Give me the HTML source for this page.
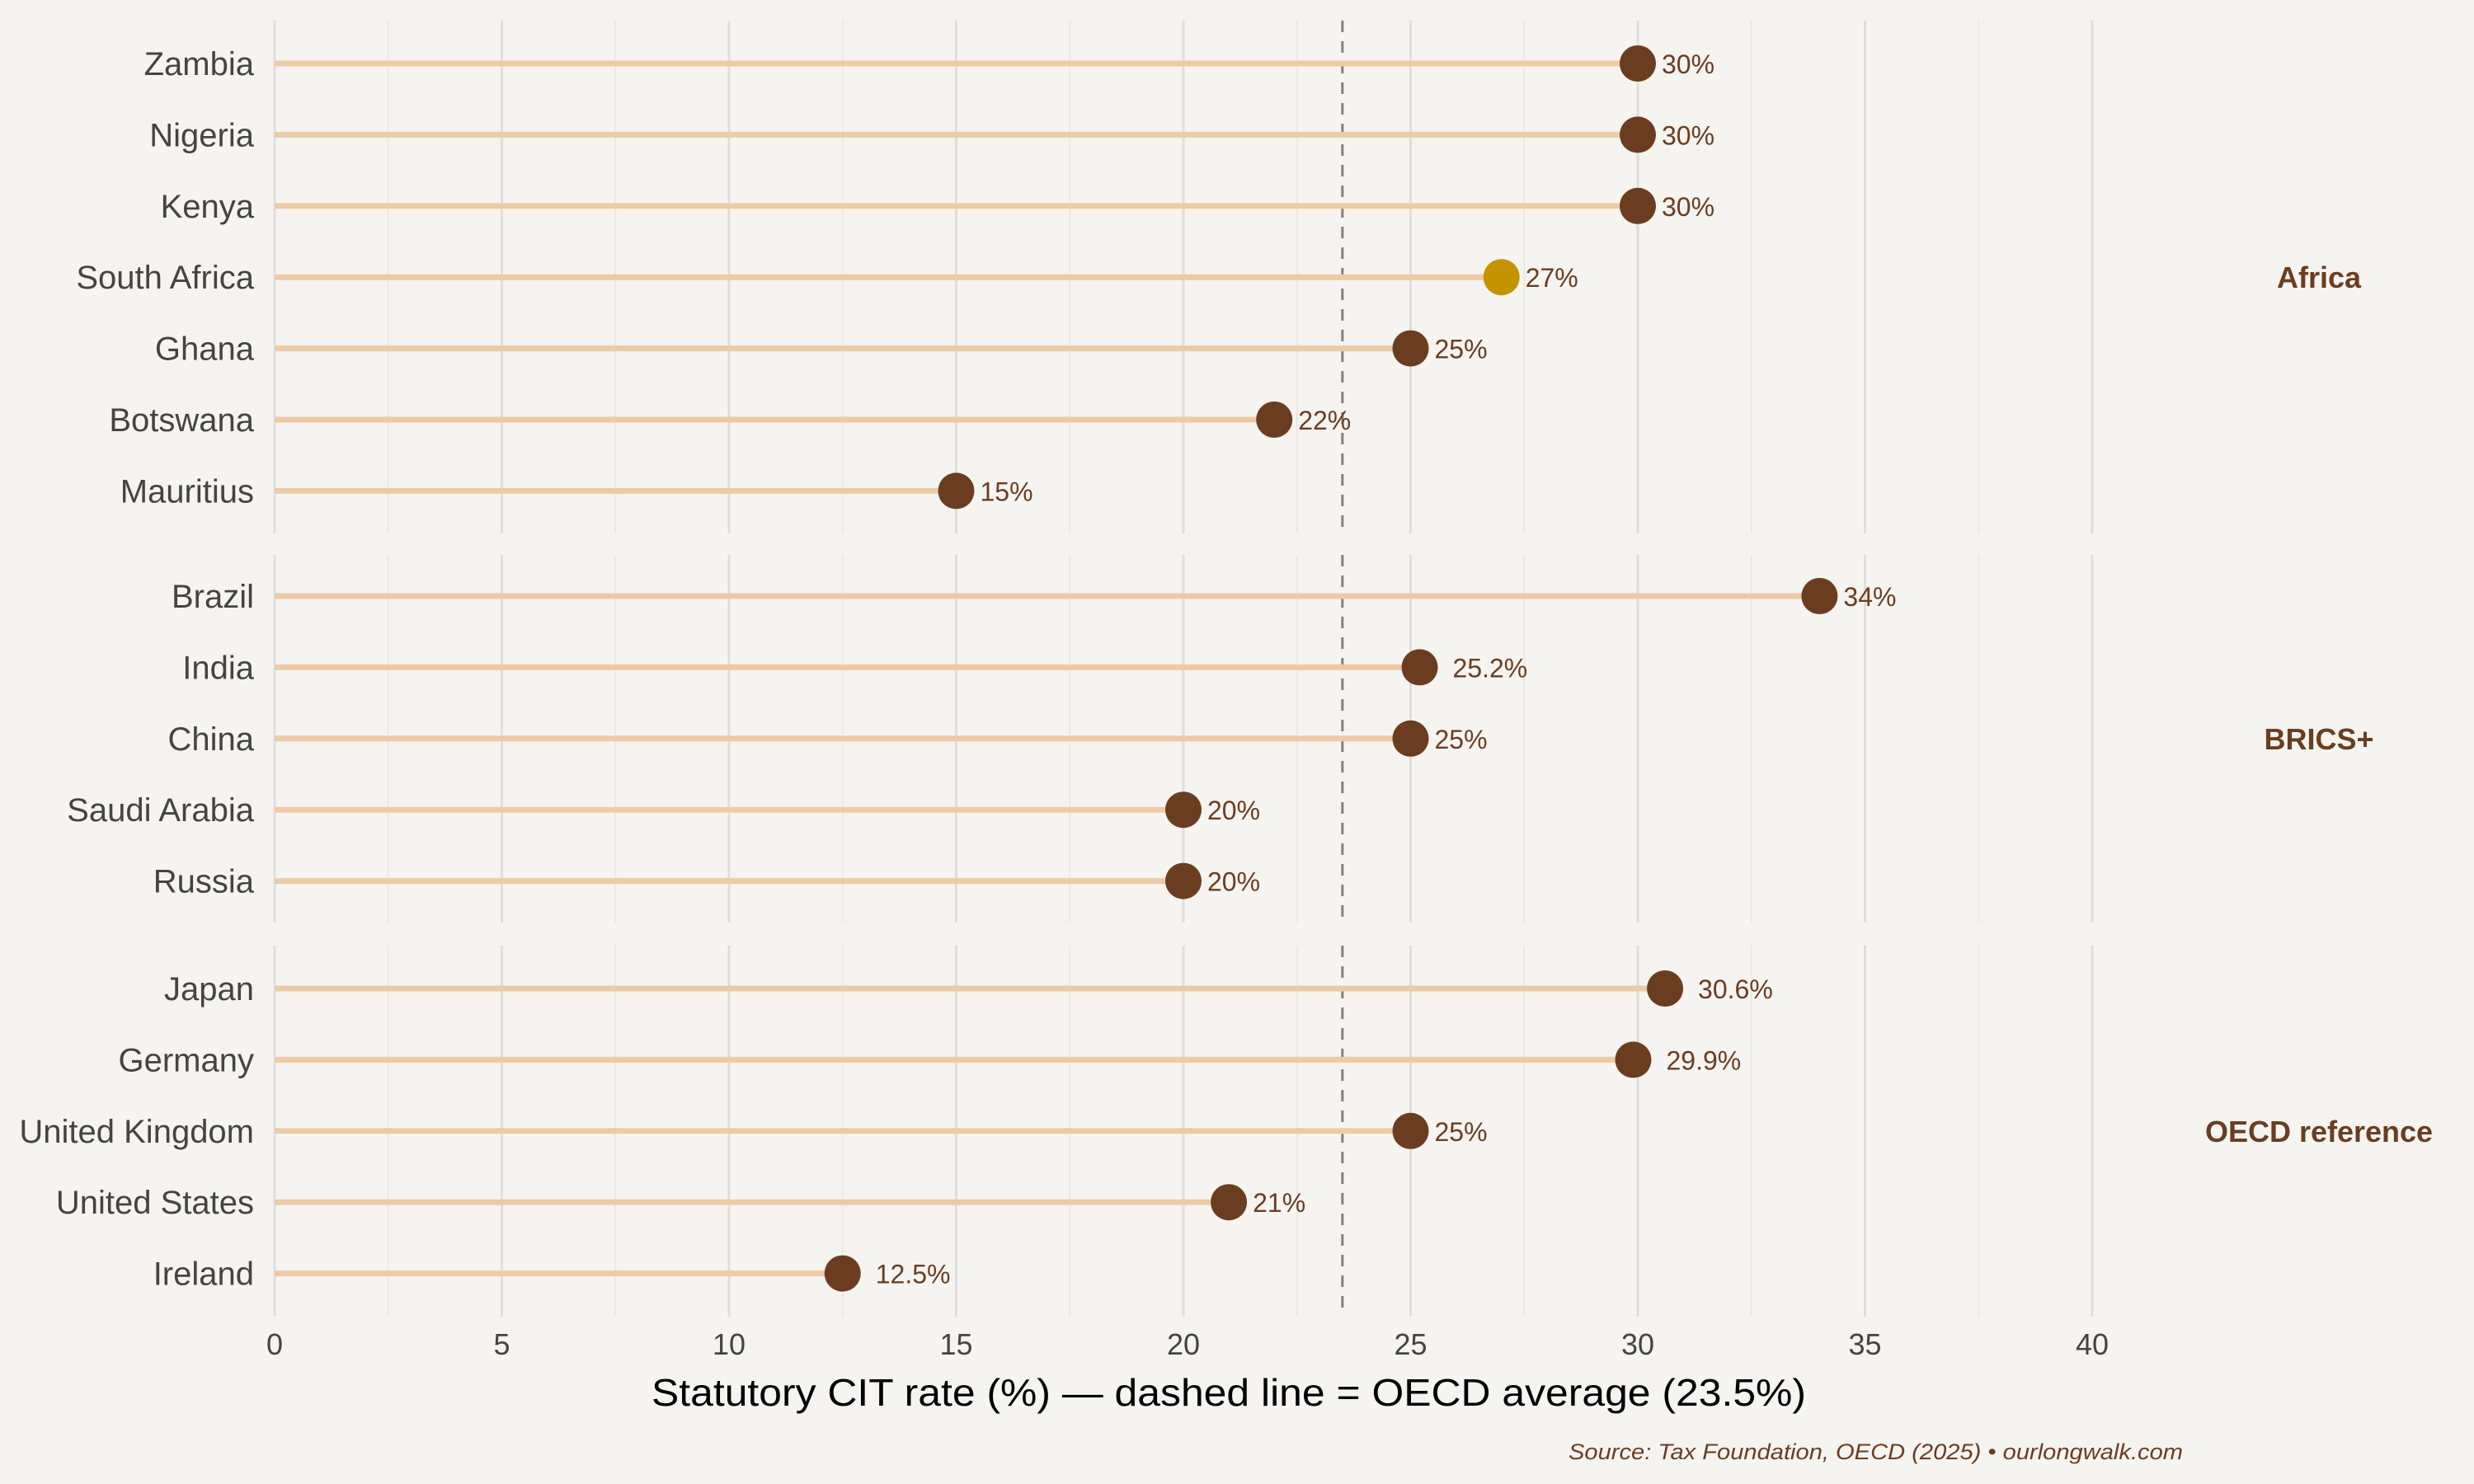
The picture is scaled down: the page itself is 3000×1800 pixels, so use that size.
<!DOCTYPE html>
<html><head><meta charset="utf-8"><style>
html,body{margin:0;padding:0;background:#f6f4f0;}
svg{display:block;font-family:"Liberation Sans",Arial,sans-serif;}
</style></head><body>
<svg id="chart" width="3000" height="1800" viewBox="0 0 3000 1800" xmlns="http://www.w3.org/2000/svg">
<rect width="3000" height="1800" fill="#f6f4f0"/>
<g id="grid"></g><g id="marks"></g><g id="labels"></g>
<text x="1490" y="1705" font-size="46" fill="#000" text-anchor="middle" textLength="1400" lengthAdjust="spacingAndGlyphs">Statutory CIT rate (%) — dashed line = OECD average (23.5%)</text>
<text x="2647" y="1770" font-size="27" font-style="italic" fill="#6b3d20" text-anchor="end" textLength="745" lengthAdjust="spacingAndGlyphs">Source: Tax Foundation, OECD (2025) • ourlongwalk.com</text>
</svg>
<script>
const africaCountries = ["Zambia","Nigeria","Kenya","South Africa","Ghana","Botswana","Mauritius"];
const africaValues = [30,30,30,27,25,22,15];
const africaLabels = ["30%","30%","30%","27%","25%","22%","15%"];
const bricsCountries = ["Brazil","India","China","Saudi Arabia","Russia"];
const bricsValues = [34,25.2,25,20,20];
const bricsLabels = ["34%","25.2%","25%","20%","20%"];
const oecdCountries = ["Japan","Germany","United Kingdom","United States","Ireland"];
const oecdValues = [30.6,29.9,25,21,12.5];
const oecdLabels = ["30.6%","29.9%","25%","21%","12.5%"];
const highlightCountry = "South Africa";
const oecdAverage = 23.5;
const xTicks = [0,5,10,15,20,25,30,35,40];
const facetNames = ["Africa","BRICS+","OECD reference"];

const NS="http://www.w3.org/2000/svg";
const X0=333, U=55.1;
function xs(v){return X0+v*U;}
function mk(parent,tag,attrs){const e=document.createElementNS(NS,tag);for(const k in attrs)e.setAttribute(k,attrs[k]);parent.appendChild(e);return e;}
const grid=document.getElementById('grid'),marks=document.getElementById('marks'),labels=document.getElementById('labels');
const panels=[
 {name:facetNames[0],c:africaCountries,v:africaValues,l:africaLabels,top:25,bottom:647,y0:77},
 {name:facetNames[1],c:bricsCountries,v:bricsValues,l:bricsLabels,top:673,bottom:1119,y0:723},
 {name:facetNames[2],c:oecdCountries,v:oecdValues,l:oecdLabels,top:1147,bottom:1597,y0:1199}
];
const STEP=86.4;
panels.forEach(p=>{
  for(let t=0;t<=40;t+=2.5){
    const major=(t%5===0);
    const g=mk(grid,'line',{x1:xs(t),x2:xs(t),y1:p.top,y2:p.bottom,stroke:major?'#e0dedc':'#ebe9e5','stroke-width':major?3:2});
    
    
  }
  const d=mk(grid,'line',{x1:xs(oecdAverage),x2:xs(oecdAverage),y1:p.top,y2:p.bottom,stroke:'#808080','stroke-width':3,'stroke-dasharray':'14,11'});
  
  
  const fl=mk(labels,'text',{x:2812,y:p.y0+(p.c.length-1)*STEP/2+13,'font-size':36,'font-weight':'bold',fill:'#6b3d20','text-anchor':'middle'});
  fl.textContent=p.name;
  
  
  p.c.forEach((c,i)=>{
    const y=p.y0+i*STEP;
    const v=p.v[i];
    const ln=mk(marks,'line',{x1:xs(0),x2:xs(v),y1:y,y2:y,stroke:'#edcba6','stroke-width':7});
    
    
    const dot=mk(marks,'circle',{cx:xs(v),cy:y,r:22,fill:c===highlightCountry?'#c49400':'#6b3d20'});
    
    
    const lab=p.l[i];
    const vt=mk(labels,'text',{x:xs(v)+(lab.length>3?40:29),y:y+12,'font-size':32,fill:'#6b3d20'});
    vt.textContent=lab;
    
    
    const ct=mk(labels,'text',{x:308,y:y+14,'font-size':40,fill:'#444','text-anchor':'end'});
    ct.textContent=c;
    
    
  });
});
xTicks.forEach(t=>{
  const tt=mk(labels,'text',{x:xs(t),y:1643,'font-size':36,fill:'#444','text-anchor':'middle'});
  tt.textContent=String(t);
  
  
});
</script>
</body></html>
